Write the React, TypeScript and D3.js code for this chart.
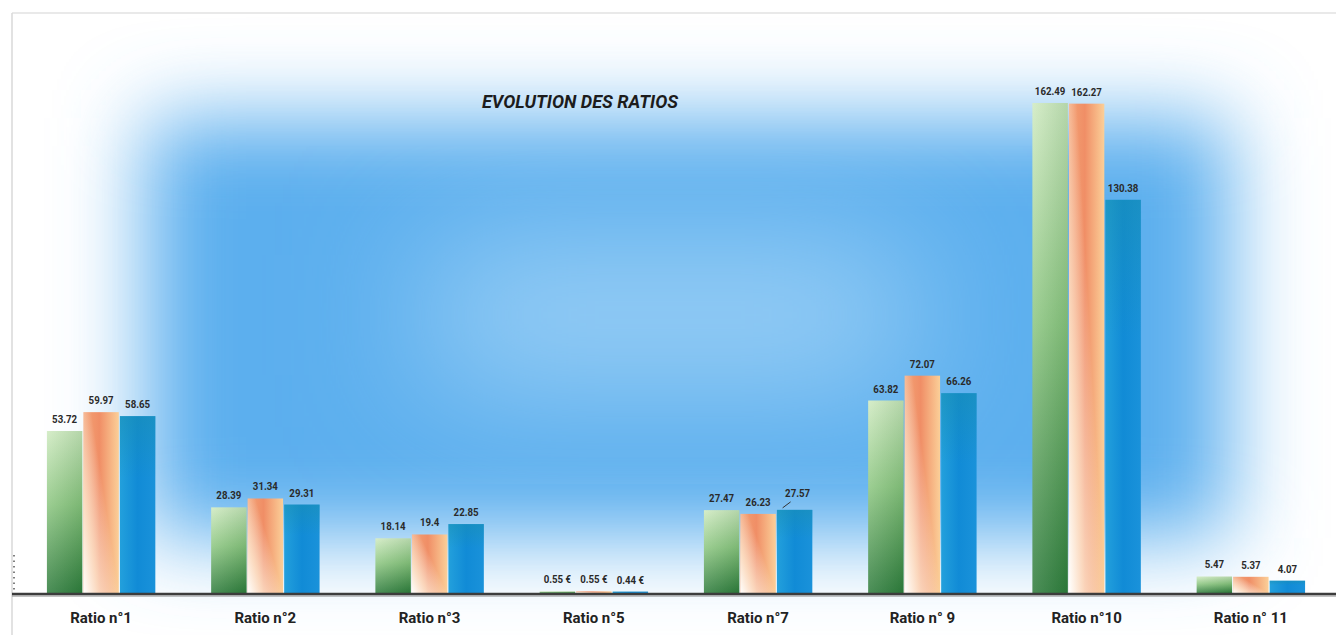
import * as d3 from 'd3';
import React from 'react';

// chart data
const categories = [
  'Ratio n°1',
  'Ratio n°2',
  'Ratio n°3',
  'Ratio n°5',
  'Ratio n°7',
  'Ratio n° 9',
  'Ratio n°10',
  'Ratio n° 11'
];
const units = ['', '', '', ' €', '', '', '', ''];
const seriesA = [53.72, 28.39, 18.14, 0.55, 27.47, 63.82, 162.49, 5.47];
const seriesB = [59.97, 31.34, 19.4, 0.55, 26.23, 72.07, 162.27, 5.37];
const seriesC = [58.65, 29.31, 22.85, 0.44, 27.57, 66.26, 130.38, 4.07];
const seriesKeys = ['a', 'b', 'c'];
const title = 'EVOLUTION DES RATIOS';

const W = 1336;
const H = 635;
const baseY = 593;
const font = "Roboto, 'Noto Sans', sans-serif";

export default function App() {
  const series = [seriesA, seriesB, seriesC];

  const x = d3
    .scaleBand<string>()
    .domain(categories)
    .range([19, 1333])
    .paddingInner(0.34)
    .paddingOuter(0.17);

  const xInner = d3
    .scaleBand<string>()
    .domain(seriesKeys)
    .range([0, x.bandwidth()])
    .paddingInner(0.03);

  // 162.49 reaches y=103
  const y = d3.scaleLinear().domain([0, 162.49]).range([baseY, 103]);

  const fills = ['url(#gGreen)', 'url(#gOrange)', 'url(#gBlue)'];

  return (
    <>
      <style>{`body{margin:0}`}</style>
      <svg width={W} height={H} viewBox={`0 0 ${W} ${H}`} style={{ display: 'block' }}>
        <defs>
          <filter id="blurBig" x="-30%" y="-40%" width="160%" height="180%">
            <feGaussianBlur stdDeviation="42" />
          </filter>
          <filter id="blurSoft" x="-50%" y="-80%" width="200%" height="260%">
            <feGaussianBlur stdDeviation="70" />
          </filter>
          <linearGradient id="gGreen" x1="0" y1="0" x2="0" y2="1">
            <stop offset="0" stopColor="#cfeac0" />
            <stop offset="0.45" stopColor="#8cc680" />
            <stop offset="1" stopColor="#2c7a3a" />
          </linearGradient>
          <linearGradient id="gGreenSide" x1="0" y1="0" x2="1" y2="0">
            <stop offset="0" stopColor="#ffffff" stopOpacity="0.15" />
            <stop offset="1" stopColor="#1d5e2a" stopOpacity="0.15" />
          </linearGradient>
          <linearGradient id="gOrange" x1="0" y1="0" x2="1" y2="0">
            <stop offset="0" stopColor="#f3a274" />
            <stop offset="0.45" stopColor="#f08e66" />
            <stop offset="1" stopColor="#fbcf98" />
          </linearGradient>
          <linearGradient id="gOrangeFade" x1="0" y1="1" x2="0.9" y2="0.3">
            <stop offset="0" stopColor="#ffffff" stopOpacity="1" />
            <stop offset="0.3" stopColor="#fff4e0" stopOpacity="0.7" />
            <stop offset="0.7" stopColor="#ffffff" stopOpacity="0" />
          </linearGradient>
          <linearGradient id="gBlue" x1="0" y1="0" x2="1" y2="0">
            <stop offset="0" stopColor="#23a0dc" />
            <stop offset="0.5" stopColor="#118bd6" />
            <stop offset="1" stopColor="#1a92da" />
          </linearGradient>
          <linearGradient id="gBlueTop" x1="0" y1="0" x2="0" y2="1">
            <stop offset="0" stopColor="#1a8fae" stopOpacity="0.5" />
            <stop offset="0.35" stopColor="#1a8fae" stopOpacity="0" />
          </linearGradient>
        </defs>

        <rect x={0} y={0} width={W} height={H} fill="#ffffff" />

        {/* blurred blue backdrop */}
        <g>
          <rect x={145} y={118} width={1085} height={420} fill="#5cafee" filter="url(#blurBig)" />
          <rect x={430} y={250} width={480} height={130} fill="#a2d3f6" filter="url(#blurSoft)" />
        </g>

        {/* frame */}
        <line x1={12} y1={13} x2={W} y2={13} stroke="#e2e2e2" strokeWidth={1.5} />
        <line x1={12} y1={13} x2={12} y2={H} stroke="#d8d8d8" strokeWidth={1.5} />
        <line x1={14} y1={555} x2={14} y2={590} stroke="#555" strokeWidth={1.5} strokeDasharray="1.5 4" />

        <text
          x={580}
          y={108}
          textAnchor="middle"
          fontFamily={font}
          fontSize={18}
          fontWeight="bold"
          fontStyle="italic"
          fill="#1c1c1c"
          textLength={196}
          lengthAdjust="spacingAndGlyphs"
        >
          {title}
        </text>

        {categories.map((cat, ci) => (
          <g key={cat} transform={`translate(${x(cat)},0)`}>
            {series.map((s, si) => {
              const bx = xInner(seriesKeys[si]) ?? 0;
              const bw = xInner.bandwidth();
              const top = y(s[ci]);
              const h = baseY - top;
              return (
                <g key={si}>
                  <rect x={bx} y={top} width={bw} height={h} fill={fills[si]} />
                  {si === 0 && <rect x={bx} y={top} width={bw} height={h} fill="url(#gGreenSide)" />}
                  {si === 1 && <rect x={bx} y={top} width={bw} height={h} fill="url(#gOrangeFade)" />}
                  {si === 2 && <rect x={bx} y={top} width={bw} height={h} fill="url(#gBlueTop)" />}
                </g>
              );
            })}
            {series.map((s, si) => {
              const bx = (xInner(seriesKeys[si]) ?? 0) + xInner.bandwidth() / 2;
              const top = y(s[ci]);
              // the 27.57 label sits up and to the right with a little leader line
              const lifted = ci === 4 && si === 2;
              return (
                <g key={`l${si}`}>
                  {lifted && (
                    <line x1={bx - 12} y1={top - 2} x2={bx - 4} y2={top - 8} stroke="#333" strokeWidth={1} />
                  )}
                  <text
                    x={lifted ? bx + 3 : bx}
                    y={lifted ? top - 13 : top - 8}
                    textAnchor="middle"
                    fontFamily={font}
                    fontSize={11}
                    fontWeight="bold"
                    fill="#2a2a2a"
                    transform={`translate(${lifted ? bx + 3 : bx},0) scale(0.88,1) translate(${-(lifted ? bx + 3 : bx)},0)`}
                  >
                    {`${s[ci]}${units[ci]}`}
                  </text>
                </g>
              );
            })}
            <text
              x={x.bandwidth() / 2}
              y={623}
              textAnchor="middle"
              fontFamily={font}
              fontSize={15}
              fontWeight="bold"
              fill="#222"
            >
              {cat}
            </text>
          </g>
        ))}

        {/* baseline */}
        <line x1={12} y1={baseY + 1} x2={W} y2={baseY + 1} stroke="#3c3c3c" strokeWidth={2.5} />
        <line x1={12} y1={baseY + 3} x2={W} y2={baseY + 3} stroke="#888" strokeWidth={1} />
      </svg>
    </>
  );
}
